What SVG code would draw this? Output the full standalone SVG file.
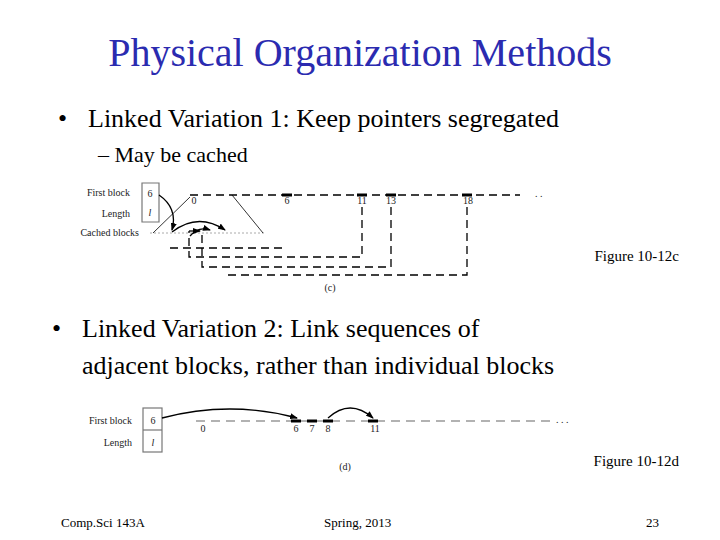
<svg xmlns="http://www.w3.org/2000/svg" width="720" height="540" viewBox="0 0 720 540" font-family="'Liberation Serif', 'DejaVu Serif', 'Times New Roman', serif">
<defs>
<marker id="ah" markerWidth="8" markerHeight="6" refX="7" refY="3" orient="auto" markerUnits="userSpaceOnUse"><path d="M0,0 L8,3 L0,6 Z" fill="#000"/></marker>
<style>
text{font-family:"Liberation Serif","DejaVu Serif",serif}
.s{font-size:10px;fill:#222}
.d{stroke:#000;stroke-width:1.3;stroke-dasharray:8,5;fill:none}
.g{stroke:#999;stroke-width:1.5;stroke-dasharray:9,6;fill:none}
.m{stroke:#000;stroke-width:3}
.c{stroke:#000;stroke-width:1.3;fill:none;marker-end:url(#ah)}
</style>
</defs>
<rect width="720" height="540" fill="#fff"/>
<text x="360" y="66" font-size="40" fill="#2b2bb0" text-anchor="middle">Physical Organization Methods</text>
<text x="58" y="127" font-size="26">•</text>
<text x="88" y="127" font-size="26">Linked Variation 1: Keep pointers segregated</text>
<text x="98" y="162" font-size="22">– May be cached</text>
<text x="52" y="337" font-size="26">•</text>
<text x="82" y="337" font-size="26">Linked Variation 2: Link sequences of</text>
<text x="82" y="374" font-size="26">adjacent blocks, rather than individual blocks</text>

<g id="figc">
<text class="s" x="130" y="196" text-anchor="end">First block</text>
<text class="s" x="130" y="217" text-anchor="end">Length</text>
<text class="s" x="139" y="236" text-anchor="end">Cached blocks</text>
<path d="M142,183 H159 V222 H142 Z" fill="none" stroke="#777" stroke-width="1.2"/>
<text class="s" x="150" y="197" text-anchor="middle">6</text>
<text class="s" x="150" y="216" text-anchor="middle" font-style="italic">l</text>
<line x1="190" y1="195" x2="520" y2="195" class="d"/>
<text class="s" x="535" y="197">. .</text>
<line x1="282" y1="195" x2="292" y2="195" class="m"/>
<line x1="357" y1="195" x2="367" y2="195" class="m"/>
<line x1="386" y1="195" x2="396" y2="195" class="m"/>
<line x1="462" y1="195" x2="472" y2="195" class="m"/>
<g class="s" text-anchor="middle" font-size="8"><text x="194" y="204">0</text><text x="287" y="204">6</text><text x="362" y="204">11</text><text x="391" y="204">13</text><text x="468" y="204">18</text></g>
<line x1="150" y1="233" x2="265" y2="233" stroke="#aaa" stroke-dasharray="2,2"/>
<line x1="153" y1="233" x2="190" y2="197" stroke="#000" stroke-width="0.8"/>
<line x1="232" y1="195" x2="263" y2="233" stroke="#000" stroke-width="0.8"/>
<line x1="170" y1="248" x2="285" y2="248" class="d"/>
<path d="M362,207 V257 H189 V231" class="d"/>
<path d="M391,207 V267 H202 V231" class="d"/>
<path d="M467,207 V275 H227" class="d"/>
<text class="s" x="330" y="291" text-anchor="middle">(c)</text>
</g>
<g id="figd">
<text class="s" x="132" y="424" text-anchor="end">First block</text>
<text class="s" x="132" y="446" text-anchor="end">Length</text>
<rect x="143" y="408" width="19" height="44" fill="none" stroke="#777" stroke-width="1.2"/>
<line x1="143" y1="430" x2="162" y2="430" stroke="#777" stroke-width="1.2"/>
<text class="s" x="153" y="424" text-anchor="middle">6</text>
<text class="s" x="153" y="446" text-anchor="middle" font-style="italic">l</text>
<line x1="196" y1="421" x2="553" y2="421" class="g"/>
<text class="s" x="556" y="423">. . .</text>
<line x1="291" y1="421" x2="301" y2="421" class="m"/>
<line x1="307" y1="421" x2="317" y2="421" class="m"/>
<line x1="323" y1="421" x2="333" y2="421" class="m"/>
<line x1="368" y1="421" x2="378" y2="421" class="m"/>
<g class="s" text-anchor="middle" font-size="8"><text x="203" y="432">0</text><text x="296" y="432">6</text><text x="312" y="432">7</text><text x="328" y="432">8</text><text x="375" y="432">11</text></g>
<text class="s" x="345" y="470" text-anchor="middle" font-size="11">(d)</text>
</g>
<g id="connectors">
<path d="M159,195 Q178,208 172,230" class="c"/>
<path d="M172,232 Q198,212 225,230" class="c"/>
<path d="M190,236 Q198,226 210,230" class="c"/>
<path d="M189,231 H200" class="c"/>
<path d="M162,418 Q230,400 297,418" class="c"/>
<path d="M328,418 Q350,398 373,418" class="c"/>
</g>
<text x="679" y="261" font-size="15" text-anchor="end">Figure 10-12c</text>
<text x="679" y="466" font-size="15" text-anchor="end">Figure 10-12d</text>
<text x="61" y="527" font-size="13">Comp.Sci 143A</text>
<text x="324" y="527" font-size="13">Spring, 2013</text>
<text x="659" y="527" font-size="13" text-anchor="end">23</text>
</svg>
